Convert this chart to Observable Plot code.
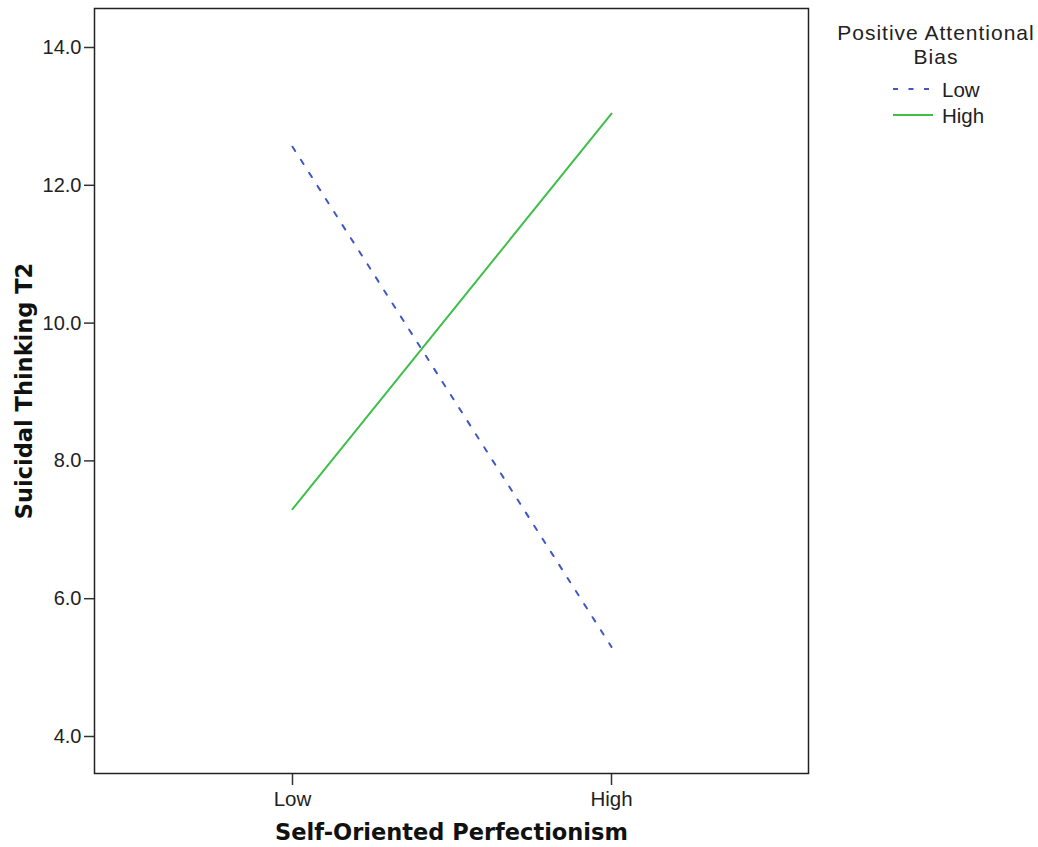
<!DOCTYPE html>
<html>
<head>
<meta charset="utf-8">
<script src="https://cdn.jsdelivr.net/npm/d3@7"></script>
<script src="https://cdn.jsdelivr.net/npm/@observablehq/plot@0.6"></script>
<style>
  body { margin: 0; background: #fff; }
  #chart { position: relative; width: 1038px; height: 847px; }
  svg { font-family: "Liberation Sans", Arial, sans-serif; }
</style>
</head>
<body>
<div id="chart"></div>
<script>
const categories = ["Low", "High"];
const seriesNames = ["Low", "High"];
const lowBiasValues = [12.56, 5.30];
const highBiasValues = [7.30, 13.04];
const yTicks = [4, 6, 8, 10, 12, 14];
const xTitle = "Self-Oriented Perfectionism";
const yTitle = "Suicidal Thinking T2";
const legendTitle = ["Positive Attentional", "Bias"];

const colors = { Low: "#4058c2", High: "#3fbf4a" };
const dashes = { Low: "5,10.5", High: null };

const data = [];
categories.forEach((c, i) => {
  data.push({ x: c, y: lowBiasValues[i], s: "Low" });
  data.push({ x: c, y: highBiasValues[i], s: "High" });
});

const W = 1038, H = 847;
const mL = 94, mR = 230, mT = 8, mB = 74;
const titleFont = "'DejaVu Sans', Verdana, sans-serif";

const chart = Plot.plot({
  width: W,
  height: H,
  marginLeft: mL,
  marginRight: mR,
  marginTop: mT,
  marginBottom: mB,
  style: { fontFamily: "'Liberation Sans', Arial, sans-serif", background: "#fff", color: "#222" },
  x: { type: "point", domain: categories, padding: 0.616, label: null },
  y: { domain: [3.463, 14.566], ticks: yTicks, label: null },
  marks: [
    Plot.axisY({ ticks: yTicks, tickFormat: d3.format(".1f"), tickSize: 10, tickPadding: 3, fontSize: 20, stroke: "#333", strokeWidth: 1.5, fill: "#222", label: null }),
    Plot.axisX({ tickSize: 12, tickPadding: 6, fontSize: 20.5, stroke: "#333", strokeWidth: 1.5, fill: "#222", label: null }),
    ...seriesNames.map(s => Plot.line(data.filter(d => d.s === s), {
      x: "x", y: "y", stroke: colors[s], strokeWidth: 2, strokeDasharray: dashes[s]
    })),
    Plot.frame({ stroke: "#222", strokeWidth: 1.5 }),
    Plot.text([xTitle], { frameAnchor: "bottom", dy: 59, text: d => d, fontSize: 22.5, fontWeight: "bold", fontFamily: titleFont, fill: "#111", textAnchor: "middle", lineAnchor: "middle" }),
    Plot.text([yTitle], { frameAnchor: "left", dx: -70, text: d => d, fontSize: 22.5, fontWeight: "bold", fontFamily: titleFont, fill: "#111", rotate: -90, textAnchor: "middle", lineAnchor: "middle" })
  ]
});

document.getElementById("chart").appendChild(chart);

// Legend
const svg = d3.select(chart);
const lg = svg.append("g").attr("font-family", "'Liberation Sans', Arial, sans-serif").attr("fill", "#222");
lg.selectAll("text.title").data(legendTitle).join("text")
  .attr("class", "title")
  .attr("x", 936).attr("y", (d, i) => 39.5 + i * 24.5)
  .attr("text-anchor", "middle")
  .attr("font-size", 21).attr("letter-spacing", 1).text(d => d);
seriesNames.forEach((s, i) => {
  const y = 89 + i * 26;
  lg.append("line").attr("x1", 893).attr("x2", 933).attr("y1", y).attr("y2", y)
    .attr("stroke", colors[s]).attr("stroke-width", 2)
    .attr("stroke-dasharray", dashes[s]);
  lg.append("text").attr("x", 942).attr("y", y).attr("dominant-baseline", "central")
    .attr("text-anchor", "start")
    .attr("font-size", 20.5).text(s);
});
</script>
</body>
</html>
